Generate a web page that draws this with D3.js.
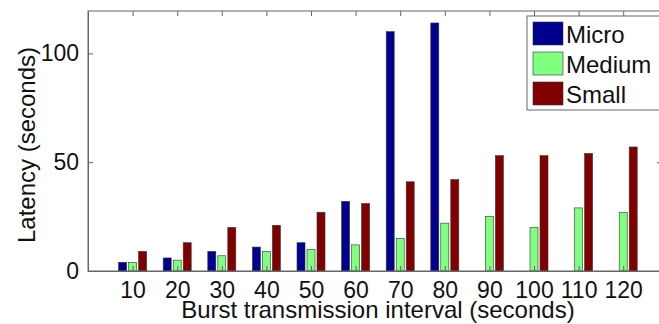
<!DOCTYPE html>
<html>
<head>
<meta charset="utf-8">
<script src="https://cdn.jsdelivr.net/npm/d3@7"></script>
<style>
  body { margin: 0; background: #fff; }
  svg { display: block; font-family: "Liberation Sans", Arial, sans-serif; }
</style>
</head>
<body>
<div id="chart"></div>
<script>
// data
const intervals = ["10", "20", "30", "40", "50", "60", "70", "80", "90", "100", "110", "120"];
const seriesNames = ["Micro", "Medium", "Small"];
const micro  = [4, 6, 9, 11, 13, 32, 110, 114, 0, 0, 0, 0];
const medium = [4, 5, 7, 9, 10, 12, 15, 22, 25, 20, 29, 27];
const small  = [9, 13, 20, 21, 27, 31, 41, 42, 53, 53, 54, 57];
const yTicks = [0, 50, 100];
const colors = ["#00008f", "#80ff80", "#800000"];

const allSeries = [micro, medium, small];

// plot box
let margin = {top: 11, right: -3, bottom: 53, left: 88},
    W = 659, H = 324,
    width = W - margin.left - margin.right,
    height = H - margin.top - margin.bottom;

let svg = d3.select("#chart")
  .append("svg")
    .attr("width", W)
    .attr("height", H)
    .style("overflow", "hidden");

let g = svg.append("g")
    .attr("transform", "translate(" + margin.left + "," + margin.top + ")");

// x: group index (1..12), matlab style xlim
let x = d3.scaleLinear()
  .domain([0, 12.87])
  .range([0, width]);

// bar offsets within a group (pixels)
let xs = d3.scaleBand()
  .domain(seriesNames)
  .range([-15, 15])
  .paddingInner(0.2)
  .paddingOuter(0.1);

let y = d3.scaleLinear()
  .domain([0, 119.5])
  .range([height, 0]);

// bars
intervals.forEach(function(lab, i) {
  seriesNames.forEach(function(s, k) {
    let v = allSeries[k][i];
    if (v <= 0) return;
    g.append("rect")
      .attr("x", x(i + 1) + xs(s))
      .attr("y", y(v))
      .attr("width", xs.bandwidth())
      .attr("height", height - y(v))
      .attr("fill", colors[k])
      .attr("stroke", "#333")
      .attr("stroke-width", 0.6);
  });
});

// frame
g.append("rect")
  .attr("x", 0).attr("y", 0)
  .attr("width", width).attr("height", height)
  .attr("fill", "none")
  .attr("stroke", "#666")
  .attr("stroke-width", 1);

// bottom axis
let xAxis = d3.axisBottom(x)
  .tickValues(d3.range(1, 13))
  .tickFormat(function(d) { return intervals[d - 1]; })
  .tickSizeInner(-5)
  .tickSizeOuter(0)
  .tickPadding(11);
let gx = g.append("g")
  .attr("transform", "translate(0," + height + ")")
  .call(xAxis);
gx.select(".domain").attr("stroke", "#666");
gx.selectAll(".tick line").attr("stroke", "#666");
gx.selectAll("text").attr("font-size", 23).attr("fill", "#111");

// top ticks
let gt = g.append("g").call(d3.axisTop(x)
  .tickValues(d3.range(1, 13))
  .tickFormat("")
  .tickSizeInner(-5)
  .tickSizeOuter(0));
gt.select(".domain").remove();
gt.selectAll(".tick line").attr("stroke", "#666");

// left axis
let yAxis = d3.axisLeft(y)
  .tickValues(yTicks)
  .tickSizeInner(-5)
  .tickSizeOuter(0)
  .tickPadding(9);
let gy = g.append("g").call(yAxis);
gy.select(".domain").attr("stroke", "#666");
gy.selectAll(".tick line").attr("stroke", "#666");
gy.selectAll("text").attr("font-size", 23).attr("fill", "#111");

// right ticks
let gr = g.append("g")
  .attr("transform", "translate(" + width + ",0)")
  .call(d3.axisRight(y).tickValues(yTicks).tickFormat("").tickSizeInner(-5).tickSizeOuter(0));
gr.select(".domain").remove();
gr.selectAll(".tick line").attr("stroke", "#666");

// axis titles
svg.append("text")
  .attr("x", margin.left + x(6.5) + 0)
  .attr("y", 318)
  .attr("text-anchor", "middle")
  .attr("font-size", 24)
  .attr("fill", "#111")
  .text("Burst transmission interval (seconds)");

svg.append("text")
  .attr("transform", "translate(35,145) rotate(-90)")
  .attr("text-anchor", "middle")
  .attr("font-size", 24)
  .attr("fill", "#111")
  .text("Latency (seconds)");

// legend
let lg = svg.append("g").attr("transform", "translate(527,16)");
lg.append("rect")
  .attr("width", 135).attr("height", 94)
  .attr("fill", "#fff")
  .attr("stroke", "#666")
  .attr("stroke-width", 1);
seriesNames.forEach(function(s, k) {
  lg.append("rect")
    .attr("x", 6).attr("y", 6 + k * 30)
    .attr("width", 30).attr("height", 23)
    .attr("fill", colors[k])
    .attr("stroke", "#333")
    .attr("stroke-width", 0.6);
  lg.append("text")
    .attr("x", 39).attr("y", 27 + k * 30)
    .attr("font-size", 24)
    .attr("fill", "#111")
    .text(s);
});
</script>
</body>
</html>
